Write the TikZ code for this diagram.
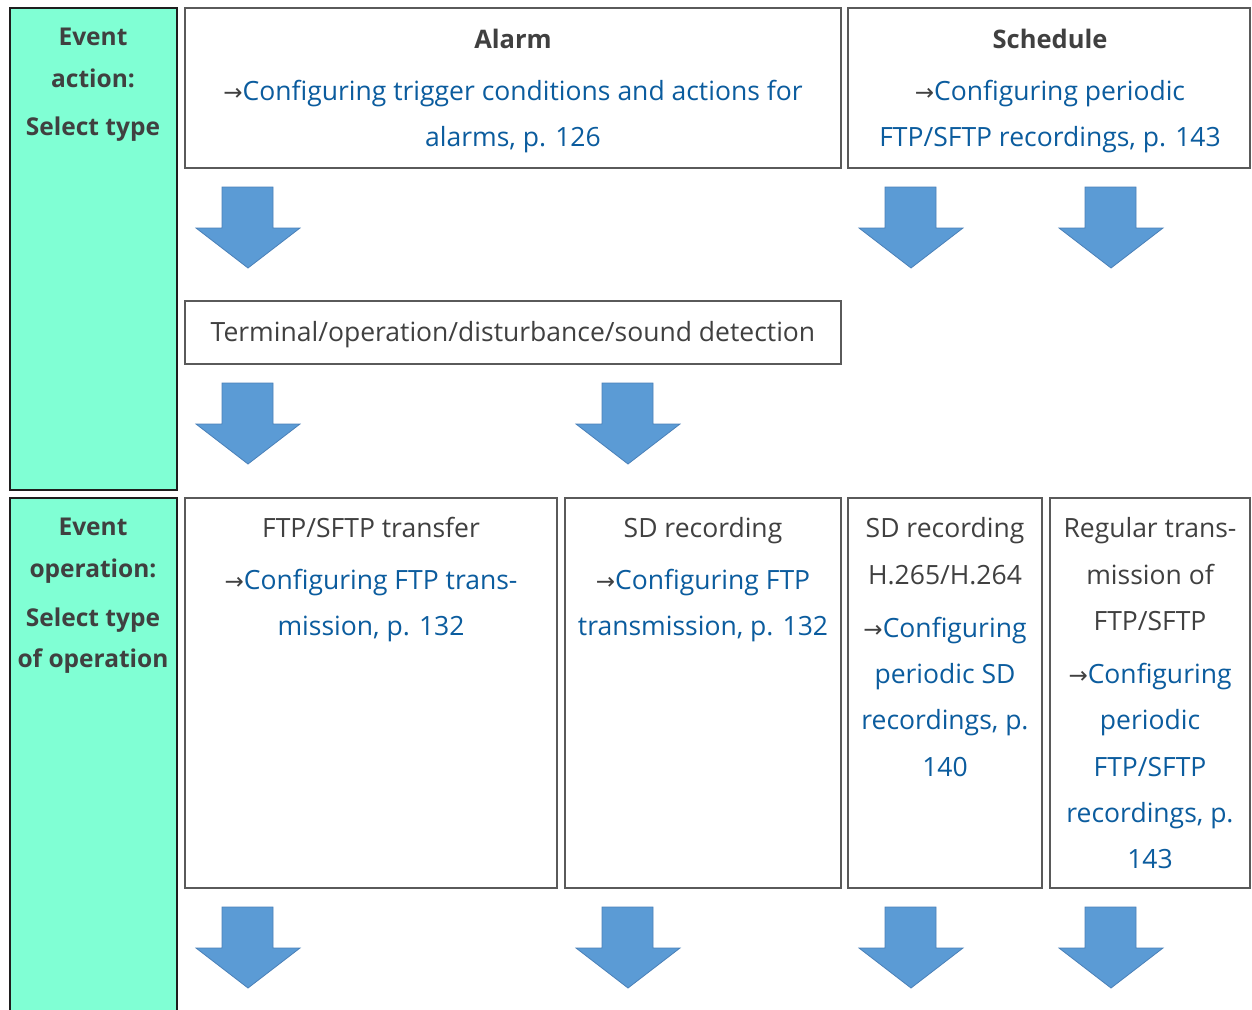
\documentclass[tikz,border=0pt]{standalone}
\usepackage{fontspec}
\setmainfont{Open Sans}
\newfontfamily\arrfont{DejaVu Sans}
\definecolor{aqua}{HTML}{80FFD4}
\definecolor{panelline}{HTML}{1E1E1E}
\definecolor{boxline}{HTML}{5A5A5A}
\definecolor{txtgray}{HTML}{404040}
\definecolor{linkblue}{HTML}{0B5C9E}
\definecolor{arrowblue}{HTML}{5B9BD5}
\definecolor{arrowedge}{HTML}{4A80B8}
\newcommand\mainsz{\fontsize{26.5}{30}\selectfont}
\newcommand\boldsz{\fontsize{24.5}{30}\selectfont}
\newcommand\headsz{\fontsize{25.5}{30}\selectfont}
\newcommand\ar{\textcolor{txtgray}{\arrfont\fontsize{23}{24}\selectfont →}}
\newcommand\bldarrow[2]{%
  \draw[darrow] (#1-26,#2) -- (#1+25,#2) -- (#1+25,#2+41) -- (#1+52,#2+41)
    -- (#1,#2+81) -- (#1-52,#2+41) -- (#1-26,#2+41) -- cycle;}
\tikzset{
  panel/.style={draw=panelline, line width=2.5pt, fill=aqua, outer sep=0pt, inner sep=0pt, anchor=north west},
  box/.style={draw=boxline, line width=1.8pt, fill=white, outer sep=0pt, inner sep=0pt, anchor=north west},
  txt/.style={anchor=base, inner sep=0pt, text=txtgray, font=\mainsz},
  hd/.style={txt, font=\boldsz\bfseries},
  bhd/.style={txt, font=\headsz\bfseries},
  lnk/.style={txt, text=linkblue},
  darrow/.style={fill=arrowblue, draw=arrowedge, line width=0.8pt, line join=miter}
}
\begin{document}
\begin{tikzpicture}[x=1pt,y=-1pt]
\useasboundingbox (0,0) rectangle (1252,1009);
% panels
\node[panel, minimum width=167pt, minimum height=482pt] (p1) at (10,8) {};
\node[panel, minimum width=167pt, minimum height=530pt] (p2) at (10,498) {};
% boxes
\node[box, minimum width=656pt, minimum height=160pt] (alarm) at (185,8) {};
\node[box, minimum width=402pt, minimum height=160pt] (sched) at (848,8) {};
\node[box, minimum width=656pt, minimum height=63pt] (term) at (185,301) {};
\node[box, minimum width=372pt, minimum height=390pt] (ftp) at (185,498) {};
\node[box, minimum width=276pt, minimum height=390pt] (sd) at (565,498) {};
\node[box, minimum width=194pt, minimum height=390pt] (hsd) at (848,498) {};
\node[box, minimum width=200pt, minimum height=390pt] (reg) at (1050,498) {};
% arrows
\bldarrow{248}{187}
\bldarrow{911}{187}
\bldarrow{1111}{187}
\bldarrow{248}{383}
\bldarrow{628}{383}
\bldarrow{248}{907}
\bldarrow{628}{907}
\bldarrow{911}{907}
\bldarrow{1111}{907}
% panel texts
\node[hd] (p1a) at (93,45) {Event};
\node[hd] (p1b) at (93,87) {action:};
\node[hd] (p1c) at (93,135) {Select type};
\node[hd] (p2a) at (93,535) {Event};
\node[hd] (p2b) at (93,577) {operation:};
\node[hd] (p2c) at (93,626) {Select type};
\node[hd] (p2d) at (93,667) {of operation};
% alarm
\node[bhd] (al1) at (513,48) {Alarm};
\node[lnk] (al2) at (513,100) {\ar Configuring trigger conditions and actions for};
\node[lnk] (al3) at (513,146) {alarms, p. 126};
% schedule
\node[bhd] (sc1) at (1050,48) {Schedule};
\node[lnk] (sc2) at (1050,100) {\ar Configuring periodic};
\node[lnk] (sc3) at (1050,146) {FTP/SFTP recordings, p. 143};
% terminal
\node[txt] (te1) at (513,341) {Terminal/operation/disturbance/sound detection};
% ftp
\node[txt] (ft1) at (371,537) {FTP/SFTP transfer};
\node[lnk] (ft2) at (371,589) {\ar Configuring FTP trans-};
\node[lnk] (ft3) at (371,635) {mission, p. 132};
% sd
\node[txt] (sd1) at (703,537) {SD recording};
\node[lnk] (sd2) at (703,589) {\ar Configuring FTP};
\node[lnk] (sd3) at (703,635) {transmission, p. 132};
% h265
\node[txt] (hs1) at (945,537) {SD recording};
\node[txt] (hs2) at (945,584) {H.265/H.264};
\node[lnk] (hs3) at (945,637) {\ar Configuring};
\node[lnk] (hs4) at (945,683) {periodic SD};
\node[lnk] (hs5) at (945,729) {recordings, p.};
\node[lnk] (hs6) at (945,776) {140};
% regular
\node[txt] (rg1) at (1150,537) {Regular trans-};
\node[txt] (rg2) at (1150,584) {mission of};
\node[txt] (rg3) at (1150,630) {FTP/SFTP};
\node[lnk] (rg4) at (1150,683) {\ar Configuring};
\node[lnk] (rg5) at (1150,729) {periodic};
\node[lnk] (rg6) at (1150,776) {FTP/SFTP};
\node[lnk] (rg7) at (1150,822) {recordings, p.};
\node[lnk] (rg8) at (1150,868) {143};
\end{tikzpicture}
\end{document}
